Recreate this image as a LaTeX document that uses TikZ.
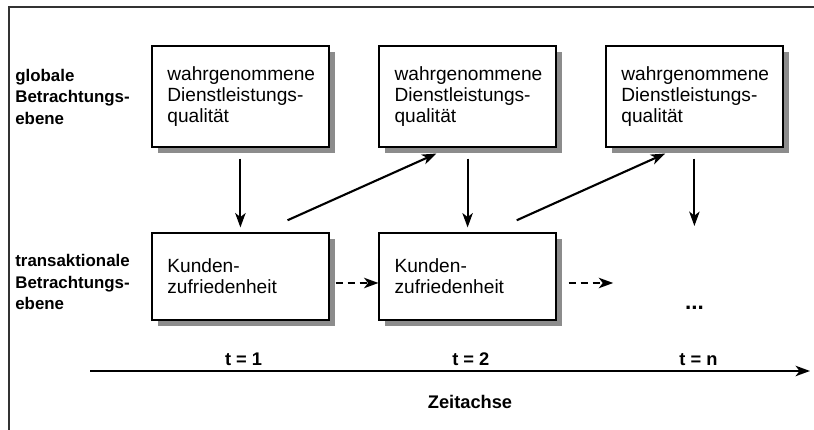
\documentclass[tikz,border=0pt]{standalone}
\usepackage{fontspec}
\setmainfont{Liberation Sans}
\usetikzlibrary{arrows.meta,shadows}

\tikzset{
  infobox/.style={draw, line width=0.9pt, fill=white, align=left, text width=3.65cm,
    inner xsep=0.38cm, minimum width=4.425cm, font=\fontsize{13.6}{14.8}\selectfont,
    drop shadow={shadow xshift=0.15cm, shadow yshift=-0.15cm, fill=black!45, opacity=1}},
  levellabel/.style={anchor=west, align=left, font=\bfseries\fontsize{12}{15.4}\selectfont},
  timelabel/.style={font=\bfseries\fontsize{13}{14}\selectfont},
  flow/.style={->, line width=1.5pt},
}

\begin{document}
\begin{tikzpicture}[>={Stealth[length=3.6mm,width=2.6mm,inset=1mm]}]
        \useasboundingbox (0,0) rectangle (20.35,10.75);
        \draw[line width=0.8pt, black!80] (0.225,0) -- (0.225,10.575) -- (20.35,10.575);

        % level labels
        \node[levellabel] (glob) at (0.26,8.33) {globale\\Betrachtungs-\\ebene};
        \node[levellabel] (trans) at (0.26,3.7) {transaktionale\\Betrachtungs-\\ebene};

        % global level
        \node[infobox, minimum height=2.525cm] (q1) at (6.01,8.34) {wahrgenommene\\Dienstleistungs-\\qualität};
        \node[infobox, minimum height=2.525cm] (q2) at (11.69,8.34) {wahrgenommene\\Dienstleistungs-\\qualität};
        \node[infobox, minimum height=2.525cm] (q3) at (17.36,8.34) {wahrgenommene\\Dienstleistungs-\\qualität};

        % transactional level
        \node[infobox, minimum height=2.175cm] (k1) at (6.01,3.84) {Kunden-\\zufriedenheit};
        \node[infobox, minimum height=2.175cm] (k2) at (11.69,3.84) {Kunden-\\zufriedenheit};
        \coordinate (k3) at (17.36,5.1);
        \coordinate (k2next) at (15.33,3.675);
        \node[font=\bfseries\fontsize{16}{16}\selectfont] (dots) at (17.36,3.05) {...};

        \draw[flow, shorten <=0.28cm, shorten >=0.12cm] (q1) -- (k1);
        \draw[flow] ([xshift=-1.05cm,yshift=0.3cm]k1.north east) -- ([xshift=1.45cm,yshift=-0.15cm]q2.south west);
        \draw[flow, shorten <=0.28cm, shorten >=0.12cm] (q2) -- (k2);
        \draw[flow] ([xshift=-1.0cm,yshift=0.3cm]k2.north east) -- ([xshift=1.5cm,yshift=-0.15cm]q3.south west);
        \draw[flow, shorten <=0.28cm] (q3) -- (k3);

        \draw[flow, dash pattern=on 0.18cm off 0.12cm] ([xshift=0.15cm,yshift=-0.165cm]k1.east) -- ([yshift=-0.165cm]k2.west);
        \draw[flow, dash pattern=on 0.18cm off 0.12cm] ([xshift=0.3cm,yshift=-0.165cm]k2.east) -- (k2next);

        % time axis
        \coordinate (axstart) at (2.25,1.475);
        \coordinate (axend) at (20.25,1.475);
        \draw[flow, line width=1.6pt] (axstart) -- (axend);
        \node[timelabel, anchor=south] (time1) at ([xshift=0.08cm]q1 |- axstart) {t = 1};
        \node[timelabel, anchor=south] (time2) at ([xshift=0.08cm]q2 |- axstart) {t = 2};
        \node[timelabel, anchor=south] (timen) at ([xshift=0.1cm]q3 |- axstart) {t = n};
        \node[timelabel] (zeit) at (11.75,0.7) {Zeitachse};
      \end{tikzpicture}
\end{document}
